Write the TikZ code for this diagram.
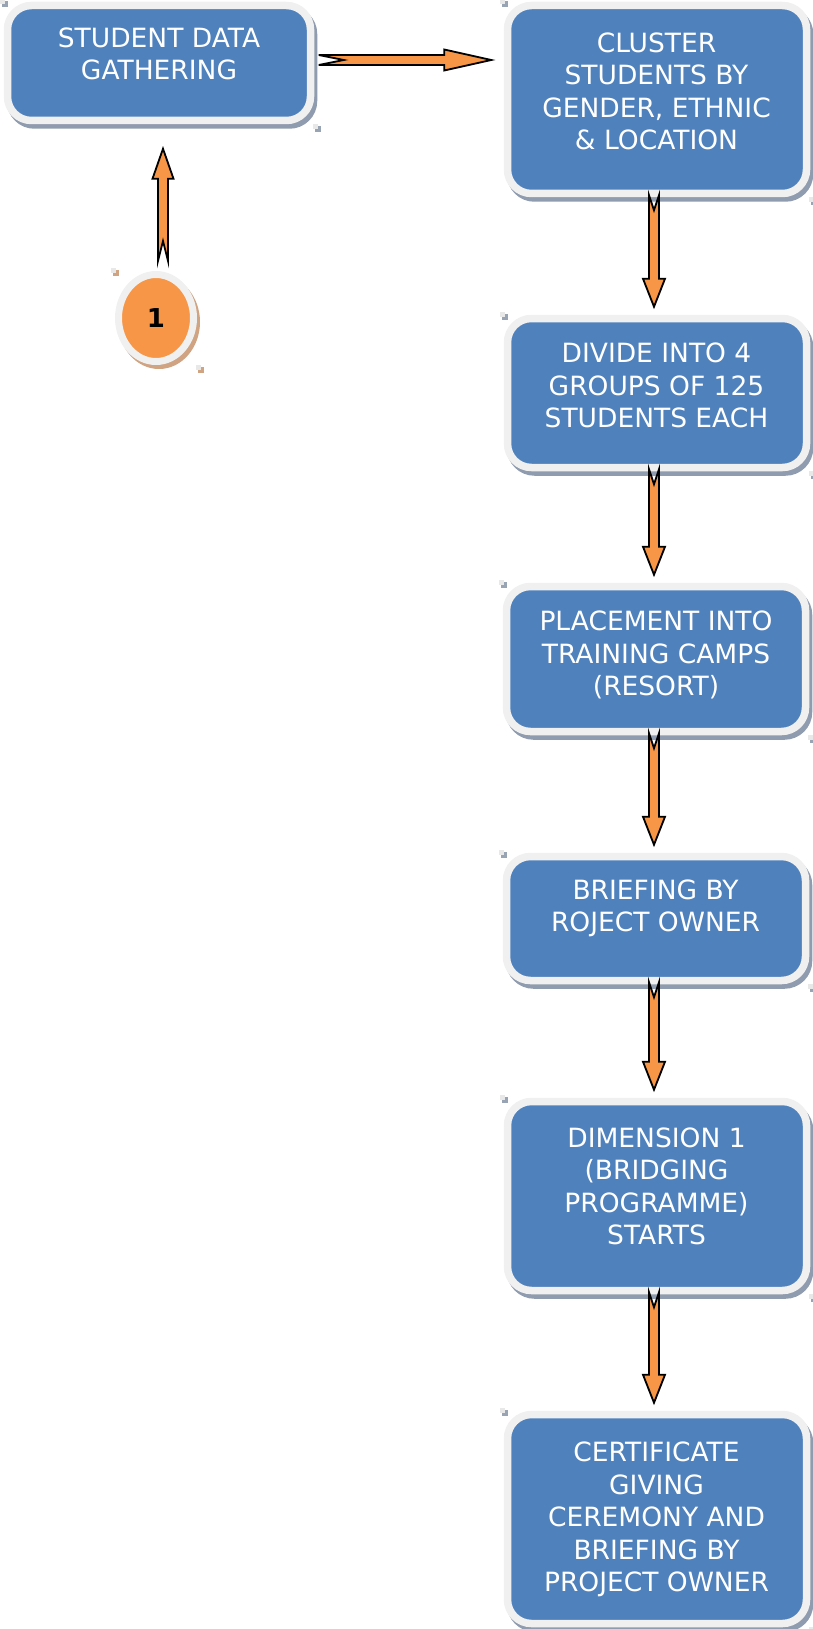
\documentclass[tikz,border=0pt]{standalone}
\usepackage{fontspec}
\setmainfont{DejaVu Sans}
\usetikzlibrary{calc,shapes.geometric}
\definecolor{boxblue}{HTML}{4F81BD}
\definecolor{rimgray}{HTML}{F0F0F0}
\definecolor{shadowgray}{HTML}{8F9BAE}
\definecolor{arroworange}{HTML}{F79646}
\definecolor{circleshadow}{HTML}{D0A383}
\definecolor{markgray}{HTML}{98A3B4}
\definecolor{marklight}{HTML}{E8E8E8}
\tikzset{
  procbox/.style={rectangle, rounded corners=24pt, fill=boxblue, draw=rimgray, line width=7.5pt, inner sep=0pt,
    preaction={fill=shadowgray, draw=shadowgray, line width=7.5pt, transform canvas={xshift=3pt,yshift=-4.5pt}}},
  boxtext/.style={anchor=north, inner sep=0pt, align=center, text=white, font=\fontsize{26.5}{32.5}\selectfont},
  fatarrowstyle/.style={fill=arroworange, draw=black, line width=1.8pt, line join=miter},
  numcircle/.style={ellipse, fill=arroworange, draw=rimgray, line width=7pt, inner sep=0pt,
    minimum width=75pt, minimum height=87pt,
    preaction={fill=circleshadow, draw=circleshadow, line width=7pt, transform canvas={xshift=3pt,yshift=-4pt}}},
}
\newcommand\fatarrow[6]{%
  \coordinate (fah) at ($(#2)!#3!(#1)$);
  \draw[fatarrowstyle] ($(#1)!#5!90:(#2)$) -- ($(fah)!#5!90:(#2)$) -- ($(fah)!#6!90:(#2)$) -- (#2)
    -- ($(fah)!#6!-90:(#2)$) -- ($(fah)!#5!-90:(#2)$) -- ($(#1)!#5!-90:(#2)$) -- ($(#1)!#4!(#2)$) -- cycle;
}
% #1 top-left corner, #2 bottom-right corner, #3 colour
\newcommand\cornermarks[3]{%
  \fill[#3] ($(#1)+(-2,-1)$) rectangle +(6,6);
  \fill[marklight] ($(#1)+(-4,-3)$) rectangle +(5,5);
  \fill[#3] ($(#2)+(1,2)$) rectangle +(6,6);
  \fill[marklight] ($(#2)+(-1,0)$) rectangle +(5,5);
}
\begin{document}
\begin{tikzpicture}[x=1pt,y=-1pt]
\useasboundingbox (0,0) rectangle (813,1629);
% boxes
\node[procbox, minimum width=303pt, minimum height=115pt] (b0) at (159,63) {};
\node[procbox, minimum width=299pt, minimum height=188pt] (b1) at (657,99.5) {};
\node[procbox, minimum width=299pt, minimum height=149pt] (b2) at (657,393) {};
\node[procbox, minimum width=299pt, minimum height=145pt] (b3) at (656,659) {};
\node[procbox, minimum width=299pt, minimum height=124pt] (b4) at (656,918.5) {};
\node[procbox, minimum width=299pt, minimum height=189pt] (b5) at (657,1196) {};
\node[procbox, minimum width=299pt, minimum height=209pt] (b6) at (657,1519) {};
% texts
\node[boxtext] (t0) at (159,27.3) {STUDENT DATA\\GATHERING};
\node[boxtext] (t1) at (656.5,32.5) {CLUSTER\\STUDENTS BY\\GENDER, ETHNIC\\\& LOCATION};
\node[boxtext] (t2) at (656.5,342.7) {DIVIDE INTO 4\\GROUPS OF 125\\STUDENTS EACH};
\node[boxtext] (t3) at (656,610.7) {PLACEMENT INTO\\TRAINING CAMPS\\(RESORT)};
\node[boxtext] (t4) at (655.5,879.3) {BRIEFING BY\\ROJECT OWNER};
\node[boxtext] (t5) at (656.5,1127.3) {DIMENSION 1\hspace{8.4pt}\\(BRIDGING\\PROGRAMME)\\STARTS};
\node[boxtext] (t6) at (656.5,1441.7) {CERTIFICATE\\GIVING\\CEREMONY AND\\BRIEFING BY\\PROJECT OWNER};
% circle
\node[numcircle] (c1) at (156,318) {\fontsize{26}{26}\selectfont\bfseries 1};
% corner marks
\cornermarks{b0.north west}{b0.south east}{markgray}
\cornermarks{b1.north west}{b1.south east}{markgray}
\cornermarks{b2.north west}{b2.south east}{markgray}
\cornermarks{b3.north west}{b3.south east}{markgray}
\cornermarks{b4.north west}{b4.south east}{markgray}
\cornermarks{b5.north west}{b5.south east}{markgray}
\cornermarks{b6.north west}{b6.south east}{markgray}
\cornermarks{c1.west |- c1.north}{c1.east |- c1.south}{circleshadow}
% arrows
\coordinate (h0s) at ([xshift=4.5pt,yshift=3pt]b0.east);
\coordinate (h0e) at ($(b1.west |- b0.east)+(-12.5,-3)$);
\fatarrow{h0s}{h0e}{47pt}{25pt}{5pt}{10.5pt}
\coordinate (u0s) at ([xshift=7pt,yshift=10pt]c1.north);
\coordinate (u0e) at ([xshift=4pt,yshift=-24.5pt]b0.south);
\fatarrow{u0s}{u0e}{30pt}{20pt}{5pt}{10.5pt}
\coordinate (d1s) at ([xshift=-3pt,yshift=2pt]b1.south);
\coordinate (d1e) at ([xshift=-3pt,yshift=8pt]b2.north);
\fatarrow{d1s}{d1e}{28pt}{15pt}{5pt}{11pt}
\coordinate (d2s) at ([xshift=-3pt,yshift=2pt]b2.south);
\coordinate (d2e) at ([xshift=-2pt,yshift=8pt]b3.north);
\fatarrow{d2s}{d2e}{28pt}{15pt}{5pt}{11pt}
\coordinate (d3s) at ([xshift=-2pt,yshift=2pt]b3.south);
\coordinate (d3e) at ([xshift=-2pt,yshift=8pt]b4.north);
\fatarrow{d3s}{d3e}{28pt}{15pt}{5pt}{11pt}
\coordinate (d4s) at ([xshift=-2pt,yshift=2pt]b4.south);
\coordinate (d4e) at ([xshift=-3pt,yshift=8pt]b5.north);
\fatarrow{d4s}{d4e}{28pt}{15pt}{5pt}{11pt}
\coordinate (d5s) at ([xshift=-3pt,yshift=2pt]b5.south);
\coordinate (d5e) at ([xshift=-3pt,yshift=8pt]b6.north);
\fatarrow{d5s}{d5e}{28pt}{15pt}{5pt}{11pt}
\end{tikzpicture}
\end{document}
